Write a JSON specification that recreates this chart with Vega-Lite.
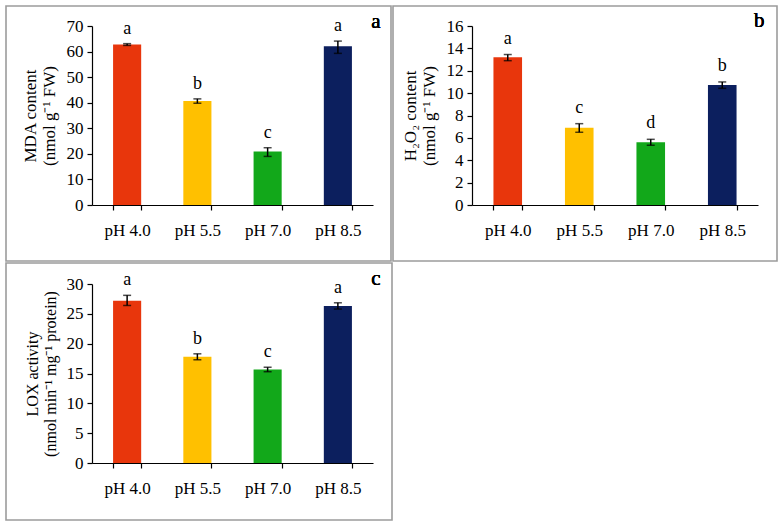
{
  "$schema": "https://vega.github.io/schema/vega-lite/v6.json",
  "padding": {"left": 5, "top": 5, "right": 0, "bottom": 0},
  "background": "white",
  "spacing": 0,
  "config": {
    "view": {"stroke": "#9c9c9c", "strokeWidth": 1.6},
    "font": "Liberation Serif",
    "axis": {"domainColor": "black", "tickColor": "black", "labelColor": "black", "titleColor": "black", "labelFont": "Liberation Serif", "titleFont": "Liberation Serif", "labelFontSize": 17, "titleFontSize": 17, "titleFontWeight": "normal", "grid": false, "ticks": true, "tickSize": 5, "domainWidth": 1.2, "tickWidth": 1.2, "labelOverlap": false},
    "axisY": {"titleFontSize": 17, "labelFontSize": 17},
    "style": {"guide-title": {"fontSize": 17}, "guide-label": {"fontSize": 17}},
    "concat": {"spacing": 0}
  },
  "datasets": {
    "mda": [
      {"ph": "pH 4.0", "mean": 62.8, "lo": 62.4, "hi": 63.1, "letter": "a"},
      {"ph": "pH 5.5", "mean": 40.7, "lo": 39.8, "hi": 41.5, "letter": "b"},
      {"ph": "pH 7.0", "mean": 20.9, "lo": 19.0, "hi": 22.4, "letter": "c"},
      {"ph": "pH 8.5", "mean": 62.1, "lo": 59.3, "hi": 64.1, "letter": "a"}
    ],
    "h2o2": [
      {"ph": "pH 4.0", "mean": 13.2, "lo": 12.9, "hi": 13.45, "letter": "a"},
      {"ph": "pH 5.5", "mean": 6.9, "lo": 6.5, "hi": 7.27, "letter": "c"},
      {"ph": "pH 7.0", "mean": 5.6, "lo": 5.34, "hi": 5.87, "letter": "d"},
      {"ph": "pH 8.5", "mean": 10.73, "lo": 10.43, "hi": 11.0, "letter": "b"}
    ],
    "lox": [
      {"ph": "pH 4.0", "mean": 27.2, "lo": 26.4, "hi": 28.1, "letter": "a"},
      {"ph": "pH 5.5", "mean": 17.8, "lo": 17.3, "hi": 18.3, "letter": "b"},
      {"ph": "pH 7.0", "mean": 15.65, "lo": 15.3, "hi": 16.05, "letter": "c"},
      {"ph": "pH 8.5", "mean": 26.3, "lo": 25.8, "hi": 26.85, "letter": "a"}
    ]
  },
  "vconcat": [
    {
      "hconcat": [
        {
          "width": 385, "height": 255,
          "data": {"name": "mda"},
          "encoding": {
            "x": {"field": "ph", "type": "nominal", "sort": null,
              "scale": {"range": [86, 367], "paddingInner": 0.6, "paddingOuter": 0.3},
              "axis": {"title": null, "labelAngle": 0, "offset": -56, "tickBand": "extent", "ticks": true, "labelPadding": 12, "labelFontSize": 17}}
          },
          "layer": [
            {"mark": {"type": "bar"},
             "encoding": {
               "y": {"field": "mean", "type": "quantitative", "scale": {"domain": [0, 70], "range": [199, 20], "nice": false},
                 "axis": {"title": ["MDA content", "(nmol g⁻¹ FW)"], "titleFontSize": 17, "labelFontSize": 17, "offset": -86, "values": [0, 10, 20, 30, 40, 50, 60, 70], "labelPadding": 4, "titlePadding": 8}},
               "color": {"field": "ph", "type": "nominal", "sort": null, "scale": {"range": ["#E8360C", "#FFC000", "#12A81A", "#0C1F5E"]}, "legend": null}}},
            {"mark": {"type": "rule", "color": "black", "strokeWidth": 1.5},
             "encoding": {"y": {"field": "lo", "type": "quantitative", "scale": {"domain": [0, 70], "range": [199, 20], "nice": false},
                 "axis": {"title": ["MDA content", "(nmol g⁻¹ FW)"], "titleFontSize": 17, "labelFontSize": 17, "offset": -86, "values": [0, 10, 20, 30, 40, 50, 60, 70], "labelPadding": 4, "titlePadding": 8}}, "y2": {"field": "hi"}}},
            {"mark": {"type": "tick", "color": "black", "size": 8, "thickness": 1.5},
             "encoding": {"y": {"field": "lo", "type": "quantitative", "scale": {"domain": [0, 70], "range": [199, 20], "nice": false},
                 "axis": {"title": ["MDA content", "(nmol g⁻¹ FW)"], "titleFontSize": 17, "labelFontSize": 17, "offset": -86, "values": [0, 10, 20, 30, 40, 50, 60, 70], "labelPadding": 4, "titlePadding": 8}}}},
            {"mark": {"type": "tick", "color": "black", "size": 8, "thickness": 1.5},
             "encoding": {"y": {"field": "hi", "type": "quantitative", "scale": {"domain": [0, 70], "range": [199, 20], "nice": false},
                 "axis": {"title": ["MDA content", "(nmol g⁻¹ FW)"], "titleFontSize": 17, "labelFontSize": 17, "offset": -86, "values": [0, 10, 20, 30, 40, 50, 60, 70], "labelPadding": 4, "titlePadding": 8}}}},
            {"mark": {"type": "text", "baseline": "bottom", "dy": -6, "fontSize": 18, "fontWeight": "normal", "font": "Liberation Serif", "color": "black"},
             "encoding": {"y": {"field": "hi", "type": "quantitative", "scale": {"domain": [0, 70], "range": [199, 20], "nice": false},
                 "axis": {"title": ["MDA content", "(nmol g⁻¹ FW)"], "titleFontSize": 17, "labelFontSize": 17, "offset": -86, "values": [0, 10, 20, 30, 40, 50, 60, 70], "labelPadding": 4, "titlePadding": 8}}, "text": {"field": "letter"}}},
            {"mark": {"type": "text", "baseline": "middle", "align": "center", "dx": 38, "dy": -4, "fontSize": 21, "fontWeight": "normal", "font": "Liberation Serif", "color": "black"},
             "encoding": {
               "x": {"datum": "pH 8.5", "type": "nominal", "scale": {"range": [86, 367], "paddingInner": 0.6, "paddingOuter": 0.3},
                 "axis": {"title": null, "labelAngle": 0, "offset": -56, "tickBand": "extent", "ticks": true, "labelPadding": 12, "labelFontSize": 17}},
               "y": {"datum": 70, "type": "quantitative", "scale": {"domain": [0, 70], "range": [199, 20], "nice": false},
                 "axis": {"title": ["MDA content", "(nmol g⁻¹ FW)"], "titleFontSize": 17, "labelFontSize": 17, "offset": -86, "values": [0, 10, 20, 30, 40, 50, 60, 70], "labelPadding": 4, "titlePadding": 8}},
               "text": {"value": "a"}}}
          ]
        },
        {
          "width": 384, "height": 255,
          "data": {"name": "h2o2"},
          "encoding": {
            "x": {"field": "ph", "type": "nominal", "sort": null,
              "scale": {"range": [79, 365], "paddingInner": 0.6, "paddingOuter": 0.3},
              "axis": {"title": null, "labelAngle": 0, "offset": -56, "tickBand": "extent", "ticks": true, "labelPadding": 12, "labelFontSize": 17}}
          },
          "layer": [
            {"mark": {"type": "bar"},
             "encoding": {
               "y": {"field": "mean", "type": "quantitative", "scale": {"domain": [0, 16], "range": [199, 20], "nice": false},
                 "axis": {"title": ["H₂O₂ content", "(nmol g⁻¹ FW)"], "titleFontSize": 17, "labelFontSize": 17, "offset": -79, "values": [0, 2, 4, 6, 8, 10, 12, 14, 16], "labelPadding": 4, "titlePadding": 8}},
               "color": {"field": "ph", "type": "nominal", "sort": null, "scale": {"range": ["#E8360C", "#FFC000", "#12A81A", "#0C1F5E"]}, "legend": null}}},
            {"mark": {"type": "rule", "color": "black", "strokeWidth": 1.5},
             "encoding": {"y": {"field": "lo", "type": "quantitative", "scale": {"domain": [0, 16], "range": [199, 20], "nice": false},
                 "axis": {"title": ["H₂O₂ content", "(nmol g⁻¹ FW)"], "titleFontSize": 17, "labelFontSize": 17, "offset": -79, "values": [0, 2, 4, 6, 8, 10, 12, 14, 16], "labelPadding": 4, "titlePadding": 8}}, "y2": {"field": "hi"}}},
            {"mark": {"type": "tick", "color": "black", "size": 8, "thickness": 1.5},
             "encoding": {"y": {"field": "lo", "type": "quantitative", "scale": {"domain": [0, 16], "range": [199, 20], "nice": false},
                 "axis": {"title": ["H₂O₂ content", "(nmol g⁻¹ FW)"], "titleFontSize": 17, "labelFontSize": 17, "offset": -79, "values": [0, 2, 4, 6, 8, 10, 12, 14, 16], "labelPadding": 4, "titlePadding": 8}}}},
            {"mark": {"type": "tick", "color": "black", "size": 8, "thickness": 1.5},
             "encoding": {"y": {"field": "hi", "type": "quantitative", "scale": {"domain": [0, 16], "range": [199, 20], "nice": false},
                 "axis": {"title": ["H₂O₂ content", "(nmol g⁻¹ FW)"], "titleFontSize": 17, "labelFontSize": 17, "offset": -79, "values": [0, 2, 4, 6, 8, 10, 12, 14, 16], "labelPadding": 4, "titlePadding": 8}}}},
            {"mark": {"type": "text", "baseline": "bottom", "dy": -7, "fontSize": 18, "fontWeight": "normal", "font": "Liberation Serif", "color": "black"},
             "encoding": {"y": {"field": "hi", "type": "quantitative", "scale": {"domain": [0, 16], "range": [199, 20], "nice": false},
                 "axis": {"title": ["H₂O₂ content", "(nmol g⁻¹ FW)"], "titleFontSize": 17, "labelFontSize": 17, "offset": -79, "values": [0, 2, 4, 6, 8, 10, 12, 14, 16], "labelPadding": 4, "titlePadding": 8}}, "text": {"field": "letter"}}},
            {"mark": {"type": "text", "baseline": "middle", "align": "center", "dx": 37, "dy": -5, "fontSize": 21, "fontWeight": "normal", "font": "Liberation Serif", "color": "black"},
             "encoding": {
               "x": {"datum": "pH 8.5", "type": "nominal", "scale": {"range": [79, 365], "paddingInner": 0.6, "paddingOuter": 0.3},
                 "axis": {"title": null, "labelAngle": 0, "offset": -56, "tickBand": "extent", "ticks": true, "labelPadding": 12, "labelFontSize": 17}},
               "y": {"datum": 16, "type": "quantitative", "scale": {"domain": [0, 16], "range": [199, 20], "nice": false},
                 "axis": {"title": ["H₂O₂ content", "(nmol g⁻¹ FW)"], "titleFontSize": 17, "labelFontSize": 17, "offset": -79, "values": [0, 2, 4, 6, 8, 10, 12, 14, 16], "labelPadding": 4, "titlePadding": 8}},
               "text": {"value": "b"}}}
          ]
        }
      ]
    },
    {
      "width": 386, "height": 257,
      "data": {"name": "lox"},
      "encoding": {
        "x": {"field": "ph", "type": "nominal", "sort": null,
          "scale": {"range": [86, 367], "paddingInner": 0.6, "paddingOuter": 0.3},
          "axis": {"title": null, "labelAngle": 0, "offset": -57, "tickBand": "extent", "ticks": true, "labelPadding": 12, "labelFontSize": 17}}
      },
      "layer": [
        {"mark": {"type": "bar"},
         "encoding": {
           "y": {"field": "mean", "type": "quantitative", "scale": {"domain": [0, 30], "range": [200, 21], "nice": false},
             "axis": {"title": ["LOX activity", "(nmol min⁻¹ mg⁻¹ protein)"], "titleFontSize": 16, "labelFontSize": 17, "offset": -86, "values": [0, 5, 10, 15, 20, 25, 30], "labelPadding": 4, "titlePadding": 8}},
           "color": {"field": "ph", "type": "nominal", "sort": null, "scale": {"range": ["#E8360C", "#FFC000", "#12A81A", "#0C1F5E"]}, "legend": null}}},
        {"mark": {"type": "rule", "color": "black", "strokeWidth": 1.5},
         "encoding": {"y": {"field": "lo", "type": "quantitative", "scale": {"domain": [0, 30], "range": [200, 21], "nice": false},
             "axis": {"title": ["LOX activity", "(nmol min⁻¹ mg⁻¹ protein)"], "titleFontSize": 16, "labelFontSize": 17, "offset": -86, "values": [0, 5, 10, 15, 20, 25, 30], "labelPadding": 4, "titlePadding": 8}}, "y2": {"field": "hi"}}},
        {"mark": {"type": "tick", "color": "black", "size": 8, "thickness": 1.5},
         "encoding": {"y": {"field": "lo", "type": "quantitative", "scale": {"domain": [0, 30], "range": [200, 21], "nice": false},
             "axis": {"title": ["LOX activity", "(nmol min⁻¹ mg⁻¹ protein)"], "titleFontSize": 16, "labelFontSize": 17, "offset": -86, "values": [0, 5, 10, 15, 20, 25, 30], "labelPadding": 4, "titlePadding": 8}}}},
        {"mark": {"type": "tick", "color": "black", "size": 8, "thickness": 1.5},
         "encoding": {"y": {"field": "hi", "type": "quantitative", "scale": {"domain": [0, 30], "range": [200, 21], "nice": false},
             "axis": {"title": ["LOX activity", "(nmol min⁻¹ mg⁻¹ protein)"], "titleFontSize": 16, "labelFontSize": 17, "offset": -86, "values": [0, 5, 10, 15, 20, 25, 30], "labelPadding": 4, "titlePadding": 8}}}},
        {"mark": {"type": "text", "baseline": "bottom", "dy": -6, "fontSize": 18, "fontWeight": "normal", "font": "Liberation Serif", "color": "black"},
         "encoding": {"y": {"field": "hi", "type": "quantitative", "scale": {"domain": [0, 30], "range": [200, 21], "nice": false},
             "axis": {"title": ["LOX activity", "(nmol min⁻¹ mg⁻¹ protein)"], "titleFontSize": 16, "labelFontSize": 17, "offset": -86, "values": [0, 5, 10, 15, 20, 25, 30], "labelPadding": 4, "titlePadding": 8}}, "text": {"field": "letter"}}},
        {"mark": {"type": "text", "baseline": "middle", "align": "center", "dx": 38, "dy": -5, "fontSize": 21, "fontWeight": "normal", "font": "Liberation Serif", "color": "black"},
         "encoding": {
           "x": {"datum": "pH 8.5", "type": "nominal", "scale": {"range": [86, 367], "paddingInner": 0.6, "paddingOuter": 0.3},
             "axis": {"title": null, "labelAngle": 0, "offset": -57, "tickBand": "extent", "ticks": true, "labelPadding": 12, "labelFontSize": 17}},
           "y": {"datum": 30, "type": "quantitative", "scale": {"domain": [0, 30], "range": [200, 21], "nice": false},
             "axis": {"title": ["LOX activity", "(nmol min⁻¹ mg⁻¹ protein)"], "titleFontSize": 16, "labelFontSize": 17, "offset": -86, "values": [0, 5, 10, 15, 20, 25, 30], "labelPadding": 4, "titlePadding": 8}},
           "text": {"value": "c"}}}
      ]
    }
  ]
}
